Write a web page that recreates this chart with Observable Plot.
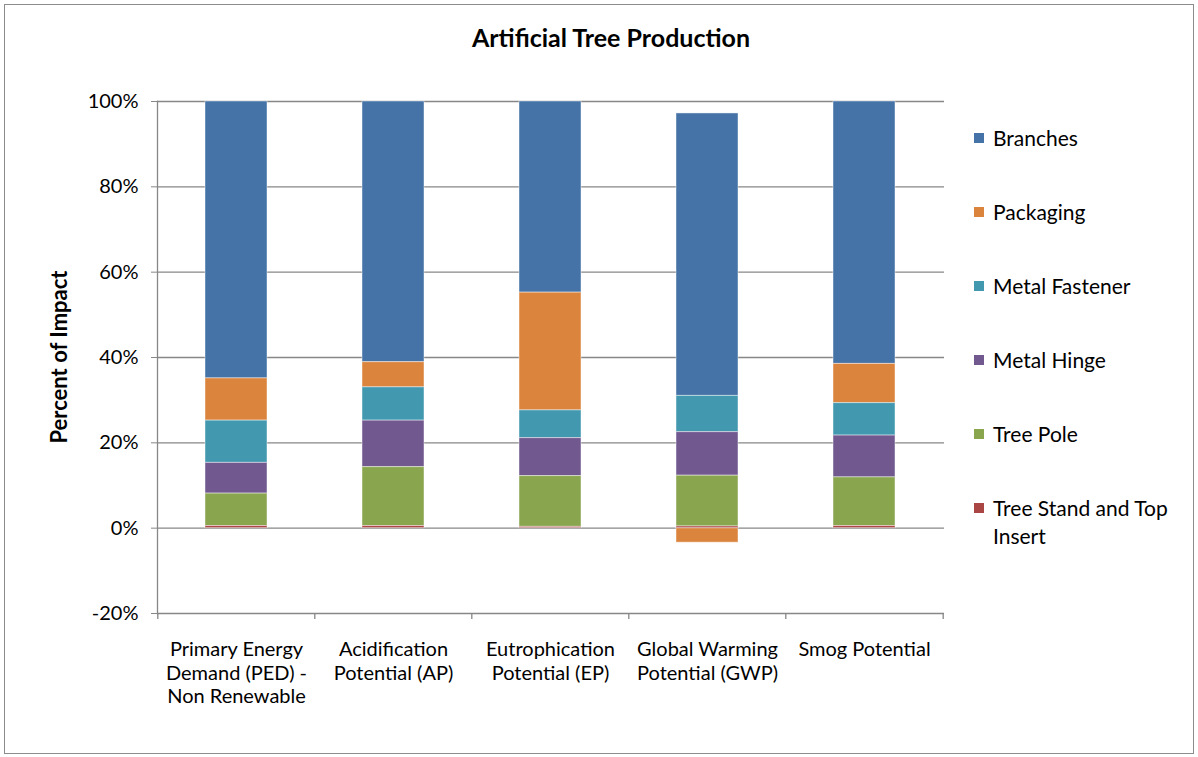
<!DOCTYPE html>
<html><head><meta charset="utf-8">
<script src="https://cdn.jsdelivr.net/npm/d3@7"></script>
<script src="https://cdn.jsdelivr.net/npm/@observablehq/plot@0.6"></script>
<style>
body{margin:0;background:#fff;font-family:Lato,"Open Sans",sans-serif;}
#wrap{position:relative;width:1198px;height:757px;overflow:hidden;}
#border{position:absolute;left:4px;top:4px;width:1190px;height:750px;border:1px solid #8c8c8c;box-sizing:border-box;}
#title{position:absolute;left:0;width:1222px;top:22px;text-align:center;font-weight:bold;font-size:25px;color:#000;}
#ylabel{position:absolute;left:58px;top:357px;transform:translate(-50%,-50%) rotate(-90deg);font-weight:bold;font-size:22px;white-space:nowrap;color:#000;}
#legend{position:absolute;left:974px;top:0;}
.li{position:absolute;left:0;width:220px;}
.sw{position:absolute;left:0;width:10px;height:10px;}
.lt{position:absolute;left:19px;width:200px;font-size:21px;line-height:28px;color:#000;}
#chart{position:absolute;left:0;top:0;}
</style></head>
<body><div id="wrap"><div id="border"></div><div id="chart"></div><div id="title"></div><div id="ylabel"></div><div id="legend"></div></div>
<script>
const titleText = "Artificial Tree Production";
const yLabel = "Percent of Impact";
const categories = ["PED","AP","EP","GWP","Smog"];
const categoryLabels = ["Primary Energy\nDemand (PED) -\nNon Renewable","Acidification\nPotential (AP)","Eutrophication\nPotential (EP)","Global Warming\nPotential (GWP)","Smog Potential"];
const series = ["Branches","Packaging","Metal Fastener","Metal Hinge","Tree Pole","Tree Stand and Top Insert"];
const colors = ["#4572A7","#DB843D","#4198AF","#71588F","#89A54E","#AA4643"];
const branches      = [64.9, 61.1, 44.8, 66.2, 61.5];
const packaging     = [ 9.9,  5.9, 27.6, -3.4,  9.2];
const metalFastener = [ 9.9,  7.8,  6.5,  8.5,  7.6];
const metalHinge    = [ 7.2, 10.9,  8.9, 10.2,  9.8];
const treePole      = [ 7.6, 13.8, 11.9, 11.9, 11.4];
const treeStand     = [ 0.5,  0.5,  0.3,  0.4,  0.5];
const yTicks = [-20, 0, 20, 40, 60, 80, 100];

const valuesBySeries = [branches, packaging, metalFastener, metalHinge, treePole, treeStand];
const data = [];
series.forEach((s, i) => categories.forEach((c, j) => data.push({cat: c, series: s, value: valuesBySeries[i][j]})));
const labelOf = Object.fromEntries(categories.map((c, i) => [c, categoryLabels[i]]));

const W = 1198, H = 757, mL = 157, mR = 254, mT = 101, mB = 144;
const step = (W - mL - mR) / categories.length;
const grid = "#878787";

const chart = Plot.plot({
  width: W, height: H,
  marginLeft: mL, marginRight: mR, marginTop: mT, marginBottom: mB,
  style: {fontFamily: "Lato, 'Open Sans', sans-serif", fontSize: "20px", color: "#000", background: "transparent"},
  x: {domain: categories, paddingInner: 0.605, paddingOuter: 0.3025, label: null},
  y: {domain: [-20, 100], label: null},
  color: {domain: series, range: colors},
  marks: [
    Plot.ruleY(yTicks, {stroke: grid, strokeWidth: 1.3}),
    Plot.barY(data, {x: "cat", y: "value", fill: "series", order: series.slice().reverse(), stroke: "#fff", strokeOpacity: 0.45, strokeWidth: 1}),
    Plot.frame({anchor: "left", stroke: grid, strokeWidth: 1.3}),
    Plot.axisY({ticks: yTicks, tickFormat: d => d + "%", tickSize: 6, tickPadding: 13, stroke: grid, fill: "#000", fontSize: 20, label: null}),
    Plot.axisX({tickSize: 0, tickPadding: 26, tickFormat: d => labelOf[d], fill: "#000", fontSize: 20, lineHeight: 1.17, label: null}),
    Plot.ruleX(categories, {x: d => d, y1: -20, y2: -20, insetBottom: -6, dx: -step / 2, stroke: grid, strokeWidth: 1.3}),
    Plot.ruleX(categories.slice(-1), {x: d => d, y1: -20, y2: -20, insetBottom: -6, dx: step / 2, stroke: grid, strokeWidth: 1.3})
  ]
});
document.getElementById("chart").appendChild(chart);
document.getElementById("title").textContent = titleText;
document.getElementById("ylabel").textContent = yLabel;

const legend = document.getElementById("legend");
series.forEach((s, i) => {
  const row = document.createElement("div");
  row.className = "li";
  row.style.top = (124 + i * 74) + "px";
  const sw = document.createElement("div");
  sw.className = "sw"; sw.style.background = colors[i]; sw.style.top = "9px";
  const t = document.createElement("div");
  t.className = "lt"; t.textContent = s; t.style.top = "0px";
  row.appendChild(sw); row.appendChild(t);
  legend.appendChild(row);
});
</script></body></html>
